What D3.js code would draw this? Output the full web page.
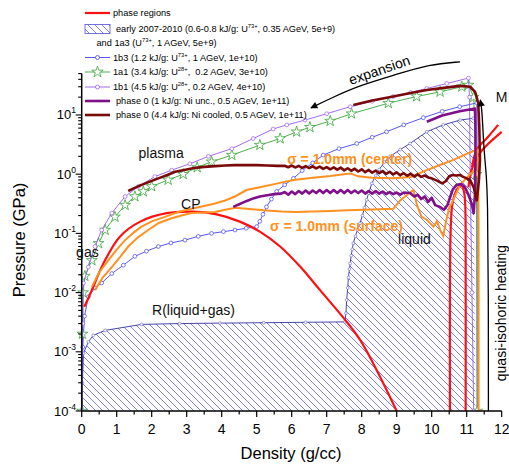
<!DOCTYPE html>
<html>
<head>
<meta charset="utf-8">
<script src="https://cdnjs.cloudflare.com/ajax/libs/d3/7.8.5/d3.min.js"></script>
<style>
  body { margin: 0; background: #fff; }
  svg { display: block; font-family: "Liberation Sans", Arial, sans-serif; }
</style>
</head>
<body>
<svg id="chart" width="509" height="468"></svg>
<script>
// ---------- data (density g/cc, pressure GPa) ----------
// phase regions (red)
const domeD = [0.07,0.1,0.29,0.62,1.09,1.67,2.43,3.19,3.86,4.52,5.09,5.67,6.24,6.81,7.52,7.95,8.43,9.0];
const domeP = [0.0058,0.0062,0.011,0.031,0.088,0.158,0.22,0.233,0.21,0.158,0.107,0.06,0.0275,0.011,0.0035,0.0016,0.00049,0.0001];
const spinD = [10.52,10.52,10.53,10.55,10.58,10.64,10.72,10.8,10.87,10.93,10.96,10.97,10.97];
const spinP = [0.0001,0.01,0.06,0.15,0.28,0.42,0.55,0.63,0.62,0.48,0.28,0.05,0.0001];
const meltAD = [11.05,11.14,11.38,12.0];
const meltAP = [0.6,1.17,2.3,5.2];
const meltBD = [11.15,11.29,11.6,11.9];
const meltBP = [1.3,2.6,4.2,6.8];

// early 2007-2010 region (hatched)
const earlyD = [0.0,0.02,0.05,0.19,0.33,0.67,1.71,2.8,3.95,5.2,6.4,7.52,7.55,7.57,7.6,7.62,7.65,7.67,7.7,7.73,7.76,7.82,7.88,7.95,8.02,8.08,8.14,8.2,8.29,8.4,8.5,8.65,8.81,9.1,9.38,9.86,10.33,10.81,11.19,11.25];
const earlyP = [0.0001,0.0003,0.00094,0.00147,0.0019,0.0023,0.0029,0.003,0.00305,0.0031,0.00315,0.0032,0.0045,0.0075,0.012,0.018,0.025,0.031,0.042,0.054,0.068,0.09,0.115,0.148,0.2,0.27,0.37,0.48,0.7,0.95,1.2,1.6,2.0,2.6,3.3,5.2,6.8,8.2,8.8,0.0001];

// 1b3 (blue, circles)
const b3D = [0.01,0.03,0.08,0.19,0.38,0.57,0.86,1.19,1.52,1.85,2.19,2.55,2.95,3.33,3.71,4.05,4.38,4.7,5.0,5.09,5.18,5.28,5.42,5.57,5.8,6.05,6.3,6.6,6.9,7.35,7.86,8.3,8.71,9.2,9.76,10.3,10.8,11.29,11.3,11.3];
const b3P = [0.0001,0.0012,0.004,0.0085,0.012,0.0145,0.021,0.029,0.041,0.05,0.06,0.069,0.077,0.089,0.1,0.107,0.114,0.122,0.13,0.16,0.21,0.28,0.38,0.51,0.66,0.85,1.15,1.55,2.1,2.7,3.3,4.2,5.2,6.8,9.0,11.5,13.8,16,1.0,0.0001];

// 1a1 (green, stars)
const a1D = [0.01,0.02,0.04,0.09,0.29,0.48,0.67,0.95,1.24,1.52,1.76,2.0,2.47,2.9,3.3,3.71,4.29,5.09,5.67,6.14,6.52,7.1,7.71,8.76,9.57,10.24,10.86,11.05,11.2,11.28,11.3];
const a1P = [0.0001,0.002,0.01,0.019,0.035,0.068,0.114,0.19,0.30,0.42,0.51,0.62,0.80,1.0,1.3,1.62,2.1,3.1,4.0,5.2,6.2,7.9,10.5,15.8,20.5,24.6,30,32,20,1.0,0.0001];

// 1b1 (violet, circles)
const b1D = [0.01,0.03,0.05,0.19,0.38,0.57,0.86,1.24,1.62,2.09,2.57,3.09,3.62,4.29,4.9,5.47,5.86,6.38,7.0,7.67,8.3,8.9,9.4,9.86,10.43,11.05,11.08,11.1,11.15,11.2];
const b1P = [0.0001,0.003,0.0145,0.027,0.06,0.114,0.22,0.42,0.62,0.91,1.17,1.5,2.0,2.7,4.0,5.8,6.8,8.2,10.5,13.8,17,20.5,24,28,34,42,20,1.0,0.01,0.0001];

// phase 0, 1 kJ/g Ni unc. (purple)
const niUncD = [4.33,4.5,4.7,4.9,5.09,5.3,5.5,5.7,5.8,5.9,6.0,6.1,6.2,6.3,6.4,6.5,6.6,6.7,6.8,6.9,7.0,7.1,7.2,7.3,7.4,7.5,7.6,7.7,7.8,7.9,8.0,8.1,8.2,8.3,8.4,8.5,8.6,8.7,8.8,8.9,9.0,9.1,9.2,9.38,9.5,9.6,9.7,9.8,9.9,10.0,10.1,10.24,10.35,10.45,10.52,10.6,10.71,10.85,10.95,11.05,11.14,11.2,11.24,11.25,11.25,11.24,10.8,10.3,9.86];
const niUncP = [0.28,0.31,0.35,0.39,0.42,0.44,0.46,0.47,0.5,0.45,0.51,0.46,0.52,0.47,0.53,0.47,0.53,0.48,0.54,0.48,0.54,0.48,0.54,0.48,0.54,0.48,0.54,0.48,0.53,0.48,0.53,0.47,0.52,0.47,0.52,0.47,0.51,0.46,0.5,0.46,0.49,0.45,0.49,0.48,0.42,0.45,0.38,0.42,0.34,0.40,0.30,0.28,0.25,0.30,0.40,0.55,0.66,0.68,0.60,0.45,0.32,0.22,0.5,2.0,6.0,12.9,11.6,9.8,7.7];

// phase 0, 4.4 kJ/g Ni cooled (maroon)
const niCoolD = [1.33,1.5,1.71,2.0,2.19,2.45,2.67,3.0,3.24,3.5,3.81,4.1,4.38,4.7,5.0,5.3,5.6,5.8,5.9,6.0,6.1,6.2,6.3,6.4,6.5,6.6,6.7,6.8,6.9,7.0,7.1,7.2,7.3,7.4,7.5,7.6,7.7,7.8,7.9,8.0,8.1,8.2,8.3,8.4,8.5,8.6,8.7,8.8,8.9,9.0,9.1,9.2,9.3,9.4,9.5,9.6,9.7,9.8,9.9,10.0,10.15,10.3,10.4,10.5,10.6,10.7,10.8,10.9,11.0,11.1,11.2,11.29,11.35,11.38,11.36,11.33,11.24,11.1,10.81,10.4,9.86,9.4,8.9,8.3,7.76];
const niCoolP = [0.52,0.58,0.66,0.77,0.85,0.97,1.1,1.2,1.28,1.33,1.37,1.4,1.42,1.43,1.42,1.4,1.38,1.39,1.31,1.40,1.30,1.38,1.28,1.37,1.27,1.36,1.25,1.34,1.23,1.32,1.21,1.30,1.19,1.29,1.16,1.26,1.14,1.24,1.11,1.21,1.08,1.18,1.06,1.15,1.04,1.13,1.01,1.10,0.99,1.07,0.96,1.04,0.94,1.02,0.91,0.99,0.90,0.95,0.88,0.85,0.78,0.70,0.76,0.92,0.97,0.95,0.97,0.90,0.85,0.79,0.60,0.36,0.8,1.74,6.3,15.8,24.6,30,31,29,26.5,23.5,20.5,17.5,14.8];

// sigma = 1.0 mm, center (orange)
const ctrD = [0.29,0.5,0.76,1.0,1.24,1.5,1.71,2.0,2.38,2.75,3.14,3.5,3.81,4.1,4.38,4.71,5.19,5.6,6.05,6.6,7.1,7.67,7.9,8.3,8.9,9.4,9.86,10.2,10.62,11.0,11.29,11.33,11.34,11.34];
const ctrP = [0.0125,0.022,0.035,0.053,0.077,0.105,0.13,0.16,0.19,0.23,0.26,0.29,0.32,0.36,0.42,0.54,0.62,0.70,0.80,0.87,0.93,1.03,0.92,0.87,0.85,0.90,1.17,1.4,1.74,2.2,2.6,1.5,0.1,0.0001];

// sigma = 1.0 mm, surface (orange)
const srfD = [0.38,0.6,0.86,1.1,1.33,1.6,1.9,2.2,2.57,2.85,3.14,3.5,3.81,4.1,4.4,4.71,5.2,5.7,6.14,6.6,7.1,7.6,8.05,8.5,8.9,9.1,9.3,9.48,9.58,9.71,9.86,10.05,10.15,10.25,10.33,10.42,10.5,10.57,10.81,11.1,11.3];
const srfP = [0.011,0.018,0.027,0.04,0.06,0.085,0.114,0.15,0.18,0.2,0.22,0.225,0.23,0.25,0.27,0.26,0.245,0.235,0.23,0.235,0.24,0.245,0.25,0.255,0.26,0.36,0.45,0.54,0.3,0.19,0.17,0.13,0.16,0.11,0.09,0.17,0.27,0.32,0.66,1.0,1.3];

// annotation arrows
const heatD = [11.62,11.62,11.6,11.55,11.49,11.44,11.39];
const heatP = [0.0001,0.01,0.4,1.2,2.6,12,18];
const expD = [10.81,9.95,8.9,7.95,7.18,6.55];
const expP = [79,72,46.6,31.6,20,13.2];

// axis ticks
const xTicks = d3.range(0, 13);
const yTicks = [-4, -3, -2, -1, 0, 1];

// ---------- layout ----------
const svg = d3.select("#chart");
const x = d3.scaleLinear().domain([0, 12]).range([81.7, 501.7]);
const y = d3.scaleLog().domain([1e-4, 50]).range([411, 73.6]);

const defs = svg.append("defs");
const pat = defs.append("pattern").attr("id", "hatch")
  .attr("patternUnits", "userSpaceOnUse").attr("width", 7).attr("height", 7);
pat.append("path").attr("d", "M-1,-1 L8,8 M-8,-1 L1,8 M6,-1 L15,8")
  .attr("stroke", "#7272f2").attr("stroke-width", 0.9);
defs.append("clipPath").attr("id", "plot")
  .append("rect").attr("x", 70).attr("y", 40).attr("width", 439).attr("height", 371);

const zip = (ds, ps) => ds.map((d, i) => [d, ps[i]]);
const line = d3.line().x(d => x(d[0])).y(d => y(d[1]));
const smooth = d3.line().x(d => x(d[0])).y(d => y(d[1])).curve(d3.curveCatmullRom);
const plot = svg.append("g").attr("clip-path", "url(#plot)");

// hatched early region
const early = zip(earlyD, earlyP);
plot.append("path").attr("d", line(early) + "Z")
  .attr("fill", "url(#hatch)").attr("stroke", "none");
plot.append("path").attr("d", line(early.slice(0, -1)))
  .attr("fill", "none").attr("stroke", "#1a1a9a").attr("stroke-width", 0.8);
plot.selectAll(".em").data(early.slice(1, -1)).join("circle")
  .attr("cx", d => x(d[0])).attr("cy", d => y(d[1])).attr("r", 1.4)
  .attr("fill", "#fff").attr("stroke", "#7a7ad8").attr("stroke-width", 0.7);

function markedLine(ds, ps, color, width, marker) {
  const pts = zip(ds, ps);
  plot.append("path").attr("d", line(pts)).attr("fill", "none")
    .attr("stroke", color).attr("stroke-width", width);
  if (marker === "circle") {
    plot.append("g").selectAll("circle").data(pts).join("circle")
      .attr("cx", d => x(d[0])).attr("cy", d => y(d[1])).attr("r", 1.9)
      .attr("fill", "#fff").attr("stroke", color).attr("stroke-width", 0.7);
  } else if (marker === "star") {
    const star = d3.symbol().type(d3.symbolStar).size(36)();
    plot.append("g").selectAll("path").data(pts).join("path")
      .attr("d", star).attr("transform", d => `translate(${x(d[0])},${y(d[1])})`)
      .attr("fill", "#fff").attr("stroke", color).attr("stroke-width", 0.8);
  }
}

markedLine(b3D, b3P, "#4545f5", 0.9, "circle");
markedLine(a1D, a1P, "#3aa63a", 0.9, "star");
markedLine(b1D, b1P, "#9a5cf0", 0.9, "circle");

// phase regions
const red = "#ff1010";
[[domeD, domeP], [spinD, spinP], [meltAD, meltAP], [meltBD, meltBP]].forEach(([ds, ps]) => {
  plot.append("path").attr("d", smooth(zip(ds, ps)))
    .attr("fill", "none").attr("stroke", red).attr("stroke-width", 2.2);
});

// orange simulation paths
const orange = "#ff9120";
[[ctrD, ctrP], [srfD, srfP]].forEach(([ds, ps]) => {
  plot.append("path").attr("d", line(zip(ds, ps))).attr("fill", "none")
    .attr("stroke", orange).attr("stroke-width", 2);
});

// phase 0 paths
plot.append("path").attr("d", line(zip(niUncD, niUncP))).attr("fill", "none")
  .attr("stroke", "#80108a").attr("stroke-width", 2.6).attr("stroke-linejoin", "round");
plot.append("path").attr("d", line(zip(niCoolD, niCoolP))).attr("fill", "none")
  .attr("stroke", "#7a0a0a").attr("stroke-width", 2.6).attr("stroke-linejoin", "round");

// arrows
defs.append("marker").attr("id", "ah").attr("viewBox", "0 0 10 10")
  .attr("refX", 9).attr("refY", 5).attr("markerWidth", 9).attr("markerHeight", 7)
  .attr("markerUnits", "userSpaceOnUse").attr("orient", "auto")
  .append("path").attr("d", "M0,0 L10,5 L0,10 Z").attr("fill", "#000");
const curved = d3.line().x(d => x(d[0])).y(d => y(d[1])).curve(d3.curveBasis);
svg.append("path").attr("d", curved(zip(heatD, heatP))).attr("fill", "none")
  .attr("stroke", "#000").attr("stroke-width", 1.3).attr("marker-end", "url(#ah)");
svg.append("path").attr("d", curved(zip(expD, expP))).attr("fill", "none")
  .attr("stroke", "#000").attr("stroke-width", 1.3).attr("marker-end", "url(#ah)");

// ---------- axes ----------
const ax = svg.append("g").attr("stroke", "#000");
ax.append("line").attr("x1", x(0)).attr("x2", x(12)).attr("y1", y(1e-4)).attr("y2", y(1e-4)).attr("stroke-width", 1.5);
ax.append("line").attr("x1", x(0)).attr("x2", x(0)).attr("y1", y(1e-4)).attr("y2", y(50)).attr("stroke-width", 1.5);
d3.range(0, 12.01, 0.5).forEach(v => {
  const major = Math.abs(v - Math.round(v)) < 1e-6;
  ax.append("line").attr("x1", x(v)).attr("x2", x(v)).attr("y1", y(1e-4))
    .attr("y2", y(1e-4) + (major ? 6 : 3.5)).attr("stroke-width", 1.2);
});
for (let e = -4; e <= 1; e++) {
  for (let m = 1; m <= 9; m++) {
    const v = m * Math.pow(10, e);
    if (v > 50) break;
    ax.append("line").attr("y1", y(v)).attr("y2", y(v)).attr("x1", x(0))
      .attr("x2", x(0) - (m === 1 ? 6 : 3.5)).attr("stroke-width", 1.1);
  }
}
svg.append("g").selectAll("text").data(xTicks).join("text")
  .attr("x", d => x(d)).attr("y", 434).attr("text-anchor", "middle")
  .attr("font-size", 14).text(d => d);
const yl = svg.append("g").selectAll("text").data(yTicks).join("text")
  .attr("x", 76).attr("y", d => y(Math.pow(10, d)) + 4.5).attr("text-anchor", "end")
  .attr("font-size", 13);
yl.append("tspan").text("10");
yl.append("tspan").attr("font-size", 8.5).attr("dy", -6).text(d => d);

svg.append("text").attr("x", 291).attr("y", 459).attr("text-anchor", "middle")
  .attr("font-size", 16.5).text("Density (g/cc)");
svg.append("text").attr("transform", "translate(25,240) rotate(-90)").attr("text-anchor", "middle")
  .attr("font-size", 16.5).text("Pressure (GPa)");

// ---------- annotations ----------
const notes = [
  { t: "plasma", d: 2.27, p: 1.88, a: "middle" },
  { t: "CP", d: 2.84, p: 0.258, a: "start" },
  { t: "gas", d: -0.16, p: 0.04, a: "start" },
  { t: "R(liquid+gas)", d: 2.01, p: 0.0042, a: "start" },
  { t: "liquid", d: 9.04, p: 0.066, a: "start" },
  { t: "M", d: 11.83, p: 16.5, a: "start" }
];
svg.append("g").selectAll("text").data(notes).join("text")
  .attr("x", d => x(d.d)).attr("y", d => y(d.p)).attr("text-anchor", d => d.a)
  .attr("font-size", 14).attr("fill", "#111").text(d => d.t);
const sig = [
  { t: "\u03c3 = 1.0mm (center)", d: 5.87, p: 1.49 },
  { t: "\u03c3 = 1.0mm (surface)", d: 5.38, p: 0.11 }
];
svg.append("g").selectAll("text").data(sig).join("text")
  .attr("x", d => x(d.d)).attr("y", d => y(d.p)).attr("font-size", 14)
  .attr("font-weight", "bold").attr("fill", orange).text(d => d.t);
svg.append("text").attr("transform", `translate(${x(8.55)},${y(48)}) rotate(-19)`)
  .attr("text-anchor", "middle").attr("font-size", 14).text("expansion");
svg.append("text").attr("transform", `translate(506,${y(0.0045)}) rotate(-90)`)
  .attr("text-anchor", "middle").attr("font-size", 14).text("quasi-isohoric heating");

// ---------- legend ----------
const lg = svg.append("g").attr("font-size", 9.2);
const rowY = [13, 28.5, 43, 57.5, 72, 87, 101, 115];
lg.append("line").attr("x1", 85).attr("x2", 110).attr("y1", rowY[0]).attr("y2", rowY[0])
  .attr("stroke", red).attr("stroke-width", 2.2);
lg.append("rect").attr("x", 85).attr("y", 24.5).attr("width", 25).attr("height", 9)
  .attr("fill", "url(#hatch)").attr("stroke", "#5050e0").attr("stroke-width", 0.8);
const legLines = [
  { y: rowY[3], c: "#4545f5", w: 0.9, m: "circle" },
  { y: rowY[4], c: "#3aa63a", w: 0.9, m: "star" },
  { y: rowY[5], c: "#9a5cf0", w: 0.9, m: "circle" },
  { y: rowY[6], c: "#80108a", w: 2.6, m: null },
  { y: rowY[7], c: "#7a0a0a", w: 2.6, m: null }
];
legLines.forEach(l => {
  lg.append("line").attr("x1", 85).attr("x2", 110).attr("y1", l.y).attr("y2", l.y)
    .attr("stroke", l.c).attr("stroke-width", l.w);
  if (l.m === "circle") lg.append("circle").attr("cx", 97.5).attr("cy", l.y).attr("r", 2)
    .attr("fill", "#fff").attr("stroke", l.c).attr("stroke-width", 0.8);
  if (l.m === "star") lg.append("path").attr("d", d3.symbol().type(d3.symbolStar).size(40)())
    .attr("transform", `translate(97.5,${l.y})`).attr("fill", "#fff").attr("stroke", l.c).attr("stroke-width", 0.8);
});
const legText = [
  { x: 113, y: rowY[0], parts: [["phase regions"]] },
  { x: 116, y: rowY[1], parts: [["early 2007-2010 (0.6-0.8 kJ/g: U"], ["73+", 1], [", 0.35 AGeV, 5e+9)"]] },
  { x: 96.5, y: rowY[2], parts: [["and 1a3 (U"], ["73+", 1], [", 1 AGeV, 5e+9)"]] },
  { x: 113, y: rowY[3], parts: [["1b3 (1.2 kJ/g: U"], ["73+", 1], [", 1 AGeV, 1e+10)"]] },
  { x: 113, y: rowY[4], parts: [["1a1 (3.4 kJ/g: U"], ["28+", 1], [",  0.2 AGeV, 3e+10)"]] },
  { x: 113, y: rowY[5], parts: [["1b1 (4.5 kJ/g: U"], ["28+", 1], [", 0.2 AGeV, 4e+10)"]] },
  { x: 116, y: rowY[6], parts: [["phase 0 (1 kJ/g: Ni unc., 0.5 AGeV, 1e+11)"]] },
  { x: 116, y: rowY[7], parts: [["phase 0 (4.4 kJ/g: Ni cooled, 0.5 AGeV, 1e+11)"]] }
];
legText.forEach(r => {
  const t = lg.append("text").attr("x", r.x).attr("y", r.y + 3.3).attr("xml:space", "preserve");
  let shifted = false;
  r.parts.forEach(([s, sup]) => {
    const ts = t.append("tspan").text(s);
    if (sup) { ts.attr("font-size", 5.8).attr("dy", -4); shifted = true; }
    else if (shifted) { ts.attr("dy", 4); shifted = false; }
  });
});
</script>
</body>
</html>
